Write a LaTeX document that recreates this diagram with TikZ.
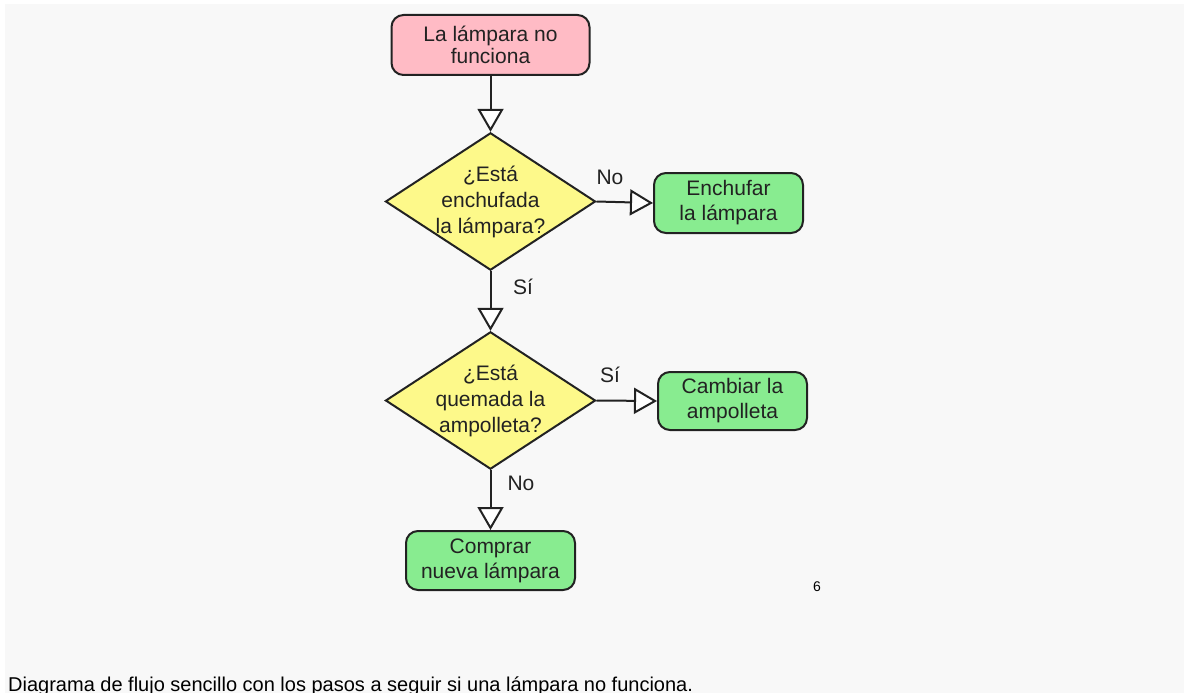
\documentclass[tikz,border=0pt]{standalone}
\usepackage{fontspec}
\setmainfont{Liberation Sans}
\usetikzlibrary{shapes.geometric,arrows.meta}
\definecolor{bggray}{HTML}{F8F8F8}
\definecolor{startpink}{HTML}{FFBBC5}
\definecolor{qyellow}{HTML}{FDF98A}
\definecolor{actgreen}{HTML}{88EC90}
\definecolor{txtdark}{HTML}{222222}
\tikzset{
  boxbase/.style={draw=txtdark, line width=2pt, rounded corners=12pt, align=center,
    text=txtdark, inner sep=0pt, font=\fontsize{21}{25}\selectfont},
  startbox/.style={boxbase, fill=startpink, minimum width=198pt, minimum height=60pt,
    font=\fontsize{21}{22}\selectfont},
  actbox/.style={boxbase, fill=actgreen, minimum width=149pt, minimum height=59pt},
  qbox/.style={diamond, draw=txtdark, line width=2pt, fill=qyellow, aspect=1.52,
    inner sep=-2pt, minimum width=210pt, minimum height=136pt, align=center,
    text=txtdark, font=\fontsize{21}{26}\selectfont},
  flow/.style={draw=txtdark, line width=2pt,
    -{Triangle[length=23pt, width=26pt, fill=white, line join=miter]}},
  lbl/.style={text=txtdark, font=\fontsize{21}{25}\selectfont, inner sep=0pt}
}
\begin{document}
\begin{tikzpicture}[x=1pt, y=-1pt]
\useasboundingbox (0,0) rectangle (1184,693);
\fill[white] (0,0) rectangle (1184,693);
\fill[bggray] (5,4) rectangle (1184,693);

\node[startbox] (start) at (490.5,45) {La lámpara no\\funciona};
\node[qbox] (q1) at (490.5,201.5) {¿Está\\enchufada\\la lámpara?};
\node[actbox, minimum height=60pt] (plug) at (728.5,203) {Enchufar\\la lámpara};
\node[qbox] (q2) at (490.5,400.5) {¿Está\\quemada la\\ampolleta?};
\node[actbox, minimum height=58pt] (change) at (732.5,401) {Cambiar la\\ampolleta};
\node[actbox, minimum width=169pt] (buy) at (490.5,560.5) {Comprar\\nueva lámpara};

\draw[flow] (start.south) -- (q1.north);
\draw[flow] (q1.east) -- (plug.west);
\draw[flow] (q1.south) -- (q2.north);
\draw[flow] (q2.east) -- (change.west);
\draw[flow] (q2.south) -- (buy.north);

\node[lbl] (l1) at (610,177) {No};
\node[lbl] (l2) at (523,287) {Sí};
\node[lbl] (l3) at (610,375) {Sí};
\node[lbl] (l4) at (521,483) {No};

\node[inner sep=0pt, font=\fontsize{14}{16}\selectfont] (pg) at (817,587) {6};
\node[anchor=base west, inner sep=0pt, text=black, font=\fontsize{20}{22}\selectfont] (cap) at (8,691)
  {Diagrama de flujo sencillo con los pasos a seguir si una lámpara no funciona.};
\end{tikzpicture}
\end{document}
